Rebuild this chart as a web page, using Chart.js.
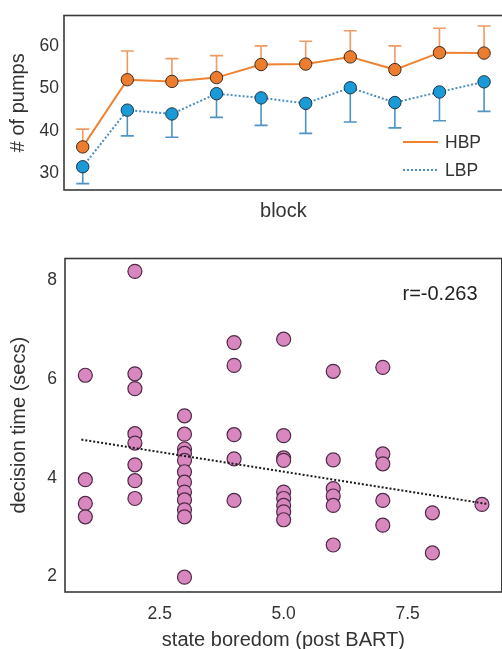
<!DOCTYPE html>
<html>
<head>
<meta charset="utf-8">
<script src="https://cdn.jsdelivr.net/npm/chart.js@4.4.0/dist/chart.umd.min.js"></script>
<style>
  html, body { margin: 0; padding: 0; overflow: hidden; background: #fff; width: 502px; height: 649px; }
  #wrap1 { position: absolute; left: 0; top: 0; width: 510px; height: 230px; }
  #wrap2 { position: absolute; left: 0; top: 240px; width: 510px; height: 420px; }
</style>
</head>
<body>
<div id="wrap1"><canvas id="chart01"></canvas></div>
<div id="wrap2"><canvas id="chart02"></canvas></div>
<script>
// top panel: pumps per block
const blocks = [1, 2, 3, 4, 5, 6, 7, 8, 9, 10];
const hbpMean = [36.2, 52.1, 51.7, 52.6, 55.7, 55.8, 57.5, 54.5, 58.5, 58.4];
const hbpErr = [4.2, 6.8, 5.4, 5.2, 4.4, 5.4, 6.2, 5.6, 5.8, 6.4];
const lbpMean = [31.5, 44.9, 44.0, 48.8, 47.8, 46.5, 50.2, 46.7, 49.2, 51.6];
const lbpErr = [4.0, 6.1, 5.5, 5.6, 6.5, 7.1, 8.1, 6.0, 6.8, 7.0];
const pumpTicks = [30, 40, 50, 60];

// bottom panel: boredom vs decision time
const boredom = [
  1, 1, 1, 1,
  2, 2, 2, 2, 2, 2, 2, 2,
  3, 3, 3, 3, 3, 3, 3, 3, 3, 3, 3, 3,
  4, 4, 4, 4, 4,
  5, 5, 5, 5, 5, 5, 5, 5, 5,
  6, 6, 6, 6, 6, 6,
  7, 7, 7, 7, 7,
  8, 8,
  9
];
const decisionTime = [
  6.07, 3.96, 3.48, 3.21,
  8.17, 6.10, 5.80, 4.89, 4.70, 4.26, 3.94, 3.58,
  5.25, 4.88, 4.58, 4.49, 4.35, 4.12, 3.91, 3.71, 3.55, 3.35, 3.21, 1.99,
  6.73, 6.27, 4.87, 4.38, 3.54,
  6.80, 4.85, 4.40, 4.35, 3.71, 3.58, 3.44, 3.31, 3.15,
  6.15, 4.36, 3.78, 3.63, 3.44, 2.64,
  6.23, 4.48, 4.28, 3.54, 3.04,
  3.29, 2.48,
  3.46
];
const fitX = [0.92, 9.1];
const fitY = [4.77, 3.47];
const timeTicks = [2, 4, 6, 8];
const boredomTicks = [2.5, 5.0, 7.5];
const rText = "r=-0.263";

const FONT = "'Liberation Sans', Arial, sans-serif";
const INK = "#333333";
Chart.defaults.font.family = FONT;
Chart.defaults.color = INK;

const framePlugin = {
  id: "frame",
  afterDraw(chart) {
    const a = chart.chartArea;
    const ctx = chart.ctx;
    ctx.save();
    ctx.strokeStyle = "#3a3a3a";
    ctx.lineWidth = 1.6;
    ctx.strokeRect(a.left, a.top, a.right - a.left, a.bottom - a.top);
    ctx.restore();
  },
};

var ChartPage = {
  init() {
    this.drawPumps();
    this.drawBoredom();
  },
  drawPumps() {
    const ctx01 = document.getElementById("chart01").getContext("2d");

    const errorBars = {
      id: "errorBars",
      beforeDatasetsDraw(chart) {
        const { ctx, scales: { x, y } } = chart;
        const draw = (means, errs, dir, color) => {
          ctx.strokeStyle = color;
          ctx.lineWidth = 1.6;
          blocks.forEach((b, i) => {
            const px = x.getPixelForValue(b);
            const y0 = y.getPixelForValue(means[i]);
            const y1 = y.getPixelForValue(means[i] + dir * errs[i]);
            ctx.beginPath();
            ctx.moveTo(px, y0);
            ctx.lineTo(px, y1);
            ctx.moveTo(px - 6.5, y1);
            ctx.lineTo(px + 6.5, y1);
            ctx.stroke();
          });
        };
        ctx.save();
        draw(hbpMean, hbpErr, 1, "#f09a62");
        draw(lbpMean, lbpErr, -1, "#4f93c4");
        ctx.restore();
      },
    };

    const legendBox = {
      id: "legendBox",
      afterDraw(chart) {
        const ctx = chart.ctx;
        ctx.save();
        ctx.lineWidth = 2;
        ctx.strokeStyle = "#ee8132";
        ctx.beginPath();
        ctx.moveTo(403, 142);
        ctx.lineTo(438, 142);
        ctx.stroke();
        ctx.strokeStyle = "#4b8fbf";
        ctx.setLineDash([2, 2]);
        ctx.beginPath();
        ctx.moveTo(403, 170);
        ctx.lineTo(438, 170);
        ctx.stroke();
        ctx.setLineDash([]);
        ctx.fillStyle = INK;
        ctx.font = "17.5px " + FONT;
        ctx.textBaseline = "middle";
        ctx.fillText("HBP", 445, 143);
        ctx.fillText("LBP", 445, 171);
        ctx.restore();
      },
    };

    const dataPumps = {
      datasets: [
        {
          label: "HBP",
          data: blocks.map((b, i) => ({ x: b, y: hbpMean[i] })),
          borderColor: "#ee8132",
          borderWidth: 2,
          pointRadius: 6.2,
          pointBackgroundColor: "#ec7d2e",
          pointBorderColor: "#3d2a1c",
          pointBorderWidth: 1,
        },
        {
          label: "LBP",
          data: blocks.map((b, i) => ({ x: b, y: lbpMean[i] })),
          borderColor: "#4b8fbf",
          borderWidth: 2,
          borderDash: [2, 2],
          pointRadius: 6.2,
          pointBackgroundColor: "#1a9ad6",
          pointBorderColor: "#1c3346",
          pointBorderWidth: 1,
        },
      ],
    };

    const configPumps = {
      type: "line",
      data: dataPumps,
      options: {
        responsive: true,
        maintainAspectRatio: false,
        animation: false,
        layout: { padding: { top: 11, right: 4, left: 0, bottom: 0 } },
        plugins: { legend: { display: false }, tooltip: { enabled: false } },
        scales: {
          x: {
            type: "linear",
            min: 0.58,
            max: 10.42,
            grid: { display: false, drawTicks: false },
            border: { display: false },
            ticks: { display: false },
            title: { display: true, text: "block", font: { size: 20 }, padding: { top: 0, bottom: 7 } },
            afterFit: (s) => { s.height = 40; },
          },
          y: {
            min: 26.0,
            max: 67.3,
            grid: { display: false, drawTicks: false },
            border: { display: false },
            ticks: { font: { size: 17.5 }, padding: 5 },
            afterBuildTicks: (s) => { s.ticks = pumpTicks.map((v) => ({ value: v })); },
            title: { display: true, text: "# of pumps", font: { size: 20 }, padding: { top: 6, bottom: 0 } },
            afterFit: (s) => { s.width = 64; },
          },
        },
      },
      plugins: [errorBars, framePlugin, legendBox],
    };
    new Chart(ctx01, configPumps);
  },
  drawBoredom() {
    const ctx02 = document.getElementById("chart02").getContext("2d");

    const rLabel = {
      id: "rLabel",
      afterDraw(chart) {
        const a = chart.chartArea;
        const ctx = chart.ctx;
        ctx.save();
        ctx.fillStyle = "#222";
        ctx.font = "20px " + FONT;
        ctx.textAlign = "center";
        ctx.textBaseline = "middle";
        ctx.fillText(rText, a.left + 375, a.top + 36);
        ctx.restore();
      },
    };

    const dataScatter = {
      datasets: [
        {
          type: "line",
          label: "fit",
          data: fitX.map((v, i) => ({ x: v, y: fitY[i] })),
          borderColor: "#1a1a1a",
          borderWidth: 2,
          borderDash: [2, 2],
          pointRadius: 0,
          order: 0,
        },
        {
          type: "scatter",
          label: "subjects",
          data: boredom.map((v, i) => ({ x: v, y: decisionTime[i] })),
          pointRadius: 7,
          pointBackgroundColor: "#d987bf",
          pointBorderColor: "#4e2a47",
          pointBorderWidth: 1.2,
          order: 1,
        },
      ],
    };

    const configScatter = {
      type: "scatter",
      data: dataScatter,
      options: {
        responsive: true,
        maintainAspectRatio: false,
        animation: false,
        layout: { padding: { top: 17, right: 5, left: 0, bottom: 0 } },
        plugins: { legend: { display: false }, tooltip: { enabled: false } },
        scales: {
          x: {
            type: "linear",
            min: 0.59,
            max: 9.4,
            grid: { display: false, drawTicks: false },
            border: { display: false },
            ticks: { font: { size: 17.5 }, padding: 11.5, callback: (v) => v.toFixed(1) },
            afterBuildTicks: (s) => { s.ticks = boredomTicks.map((v) => ({ value: v })); },
            title: { display: true, text: "state boredom (post BART)", font: { size: 20 }, padding: { top: 0, bottom: 8 } },
            afterFit: (s) => { s.height = 68; },
          },
          y: {
            min: 1.69,
            max: 8.43,
            grid: { display: false, drawTicks: false },
            border: { display: false },
            ticks: { font: { size: 17.5 }, padding: 8 },
            afterBuildTicks: (s) => { s.ticks = timeTicks.map((v) => ({ value: v })); },
            title: { display: true, text: "decision time (secs)", font: { size: 20 }, padding: { top: 7, bottom: 0 } },
            afterFit: (s) => { s.width = 65; },
          },
        },
      },
      plugins: [framePlugin, rLabel],
    };
    new Chart(ctx02, configScatter);
  },
};

ChartPage.init();
</script>
</body>
</html>
